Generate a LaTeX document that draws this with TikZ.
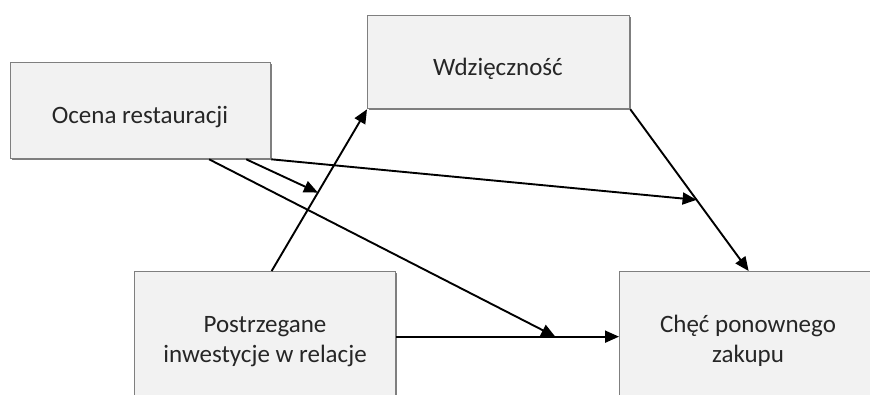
\documentclass[tikz,border=0pt]{standalone}
\usepackage{fontspec}
\setmainfont{Carlito}
\usetikzlibrary{arrows.meta,calc,shadows}
\definecolor{boxfill}{HTML}{F2F2F2}
\definecolor{boxline}{HTML}{7F7F7F}
\definecolor{txt}{HTML}{262626}
\begin{document}
\begin{tikzpicture}[x=1pt,y=-1pt,
  boxnode/.style={draw=boxline,line width=1.3pt,fill=boxfill,rectangle,
    anchor=north west,inner sep=0pt,
    general shadow={fill=boxline,shadow xshift=1pt,shadow yshift=-1pt}},
  label text/.style={text=txt,align=center,inner sep=0pt,
    font=\fontsize{25}{30}\selectfont},
  arr/.style={line width=1.9pt,-{Triangle[length=14pt,width=12pt]}},
  plainline/.style={line width=1.9pt}]
\useasboundingbox (0,0) rectangle (870,394);
\clip (0,0) rectangle (870,394);

% boxes
\node[boxnode,minimum width=260pt,minimum height=96pt] (ocena) at (10,62) {};
\node[boxnode,minimum width=262pt,minimum height=93pt] (wdz) at (367,15) {};
\node[boxnode,minimum width=261pt,minimum height=130pt] (post) at (134,271) {};
\node[boxnode,minimum width=258pt,minimum height=130pt] (chec) at (619,271) {};

% texts (base anchor sits on the last line's baseline)
\node[label text,anchor=base] (ocenaT) at (140,123) {Ocena restauracji};
\node[label text,anchor=base] (wdzT) at (498,75) {Wdzięczność};
\node[label text,anchor=base] (postT) at (265,362) {Postrzegane\\inwestycje w relacje};
\node[label text,anchor=base] (checT) at (748,362) {Chęć ponownego\\zakupu};

% connector end points
\coordinate (pstart) at ($(post.north)+(6.5,0)$);
\coordinate (o1) at ($(ocena.south west)!0.762!(ocena.south east)$);
\coordinate (o2) at ($(ocena.south west)!0.904!(ocena.south east)$);

% main paths
\draw[arr] (pstart) -- (wdz.south west);
\draw[arr] (wdz.south east) -- (chec.north);
\draw[arr] (post.east) -- (chec.west);

% paths from the evaluation box onto other paths
\draw[arr] (o1) -- ($(post.east)!0.714!(chec.west)$);
\draw[arr] (o2) -- ($(pstart)!0.485!(wdz.south west)$);
\draw[arr] (ocena.south east) -- ($(wdz.south east)!0.56!(chec.north)$);
\end{tikzpicture}
\end{document}
